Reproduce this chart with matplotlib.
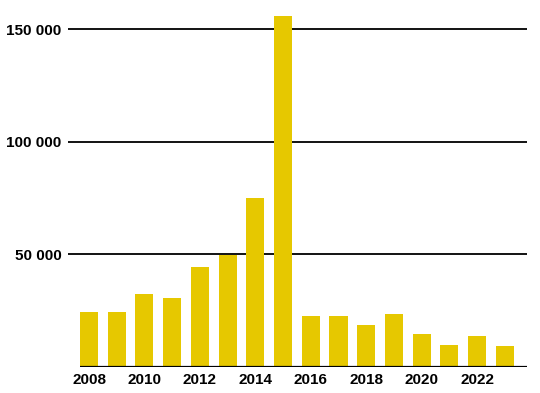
import numpy as np
import matplotlib
matplotlib.use("Agg")
import matplotlib.pyplot as plt
from matplotlib.ticker import FuncFormatter

years = list(range(2008, 2024))
values = [24400, 24300, 32400, 30700, 44600, 49900, 75100, 156000,
          22800, 22700, 18700, 23400, 14700, 9800, 13800, 9500]
yticks = [50000, 100000, 150000]
xticks = [2008, 2010, 2012, 2014, 2016, 2018, 2020, 2022]

plt.rcParams['font.family'] = ['Liberation Sans', 'DejaVu Sans']

fig = plt.figure(figsize=(5.4, 3.93), dpi=100)
ax = fig.add_axes([0.1259, 0.0662, 0.85, 0.916])

ax.bar(years, values, width=0.65, color='#E6C800', zorder=3)

for y in yticks:
    ax.axhline(y, color='black', lw=1.3, zorder=1)
# baseline only under the bars
ax.hlines(0, years[0] - 0.33, 2023.8, color='black', lw=1.6, zorder=4)

ax.set_xlim(2007.24, 2023.8)
ax.set_ylim(0, 160000)
ax.set_yticks(yticks)
ax.set_xticks(xticks)
ax.yaxis.set_major_formatter(FuncFormatter(lambda v, p: f"{v:,.0f}".replace(",", " ")))
ax.tick_params(length=0, labelsize=11, pad=4.5)
for lab in ax.get_xticklabels() + ax.get_yticklabels():
    lab.set_fontweight('bold')

for s in ax.spines.values():
    s.set_visible(False)

fig.savefig("out.png", dpi=100)
